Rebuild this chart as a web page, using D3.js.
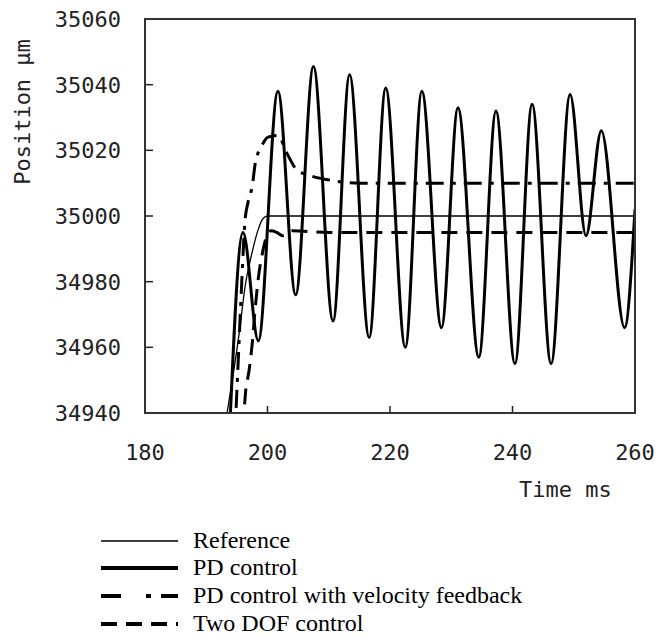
<!DOCTYPE html>
<html>
<head>
<meta charset="utf-8">
<script src="https://cdn.jsdelivr.net/npm/d3@7.9.0/dist/d3.min.js"></script>
<style>
  body { margin: 0; background: #fff; }
  svg { display: block; }
</style>
</head>
<body>
<div id="viz"></div>
<script>
// time (ms) / position (um) pairs
const referenceData = [
  [193.4, 34940], [194.5, 34953], [195.5, 34966], [196.3, 34978], [197.5, 34989],
  [198.5, 34996], [199.3, 34999.3], [200, 35000], [260, 35000]
];
const pdData = [
  [193.6, 34925], [196.0, 34995], [198.5, 34962], [201.7, 35038], [204.6, 34976],
  [207.5, 35045.5], [210.7, 34968], [213.4, 35043], [216.6, 34963], [219.3, 35039],
  [222.5, 34960], [225.2, 35038], [228.4, 34966], [231.1, 35033], [234.5, 34957],
  [237.3, 35032], [240.4, 34955], [243.2, 35034], [246.3, 34955], [249.4, 35037],
  [252.0, 34994], [254.5, 35026], [258.3, 34966], [260, 35002]
];
const pdVelData = [
  [194.6, 34930], [195.2, 34955], [195.8, 34980], [196.3, 34998], [196.8, 35004],
  [197.5, 35009], [198.0, 35016], [199.1, 35021.5], [200.1, 35024], [201.7, 35024.5],
  [203.2, 35019], [204.8, 35014], [206.6, 35012.5], [210, 35011], [215, 35010], [260, 35010]
];
const twoDofData = [
  [196.0, 34935], [196.4, 34946], [197.0, 34953], [197.5, 34961], [198.0, 34972],
  [198.5, 34981], [199.2, 34989], [199.8, 34993.5], [200.6, 34995.5], [201.5, 34995],
  [202.5, 34994], [204, 34995.5], [210, 34995], [260, 34995]
];

const xTicks = [180, 200, 220, 240, 260];
const yTicks = [34940, 34960, 34980, 35000, 35020, 35040, 35060];
const legendLabels = ["Reference", "PD control", "PD control with velocity feedback", "Two DOF control"];

const width = 666, height = 637;
const plot = { left: 145, right: 635, top: 19, bottom: 413 };

const x = d3.scaleLinear().domain([180, 260]).range([plot.left, plot.right]);
const y = d3.scaleLinear().domain([34940, 35060]).range([plot.bottom, plot.top]);

const svg = d3.select("#viz").append("svg")
  .attr("width", width)
  .attr("height", height);

svg.append("defs").append("clipPath").attr("id", "plotClip")
  .append("rect")
  .attr("x", plot.left).attr("y", plot.top)
  .attr("width", plot.right - plot.left)
  .attr("height", plot.bottom - plot.top);

const tickFont = "'DejaVu Sans Mono', monospace";

// inner ticks, left
svg.append("g").selectAll("line")
  .data(yTicks.slice(1, -1))
  .join("line")
  .attr("x1", plot.left).attr("x2", plot.left + 8)
  .attr("y1", d => y(d)).attr("y2", d => y(d))
  .attr("stroke", "#222").attr("stroke-width", 1.5);

// inner ticks, bottom
svg.append("g").selectAll("line")
  .data(xTicks.slice(1, -1))
  .join("line")
  .attr("x1", d => x(d)).attr("x2", d => x(d))
  .attr("y1", plot.bottom).attr("y2", plot.bottom - 7)
  .attr("stroke", "#222").attr("stroke-width", 1.5);

// tick labels
svg.append("g").selectAll("text")
  .data(yTicks)
  .join("text")
  .attr("x", 121)
  .attr("y", d => y(d))
  .attr("dy", "0.36em")
  .attr("text-anchor", "end")
  .style("font-family", tickFont)
  .style("font-size", "22px")
  .attr("fill", "#222")
  .text(d => d);

svg.append("g").selectAll("text")
  .data(xTicks)
  .join("text")
  .attr("x", d => x(d))
  .attr("y", 460)
  .attr("text-anchor", "middle")
  .style("font-family", tickFont)
  .style("font-size", "22px")
  .attr("fill", "#222")
  .text(d => d);

// axis titles
svg.append("text")
  .attr("transform", "translate(30,112) rotate(-90)")
  .attr("text-anchor", "middle")
  .style("font-family", tickFont)
  .style("font-size", "22px")
  .attr("fill", "#222")
  .text("Position μm");

svg.append("text")
  .attr("x", 519)
  .attr("y", 497)
  .style("font-family", tickFont)
  .style("font-size", "22px")
  .attr("fill", "#222")
  .text("Time ms");

// series
const line = d3.line()
  .x(d => x(d[0]))
  .y(d => y(d[1]))
  .curve(d3.curveMonotoneX);

const series = [
  { data: referenceData, width: 1.3, dash: null },
  { data: pdData, width: 3, dash: null },
  { data: pdVelData, width: 3, dash: "18,8,4,8" },
  { data: twoDofData, width: 3, dash: "16,9" }
];

const lines = svg.append("g").attr("clip-path", "url(#plotClip)");
series.forEach(s => {
  lines.append("path")
    .attr("d", line(s.data))
    .attr("fill", "none")
    .attr("stroke", "#000")
    .attr("stroke-width", s.width)
    .attr("stroke-dasharray", s.dash);
});

// frame
svg.append("rect")
  .attr("x", plot.left).attr("y", plot.top)
  .attr("width", plot.right - plot.left)
  .attr("height", plot.bottom - plot.top)
  .attr("fill", "none")
  .attr("stroke", "#333")
  .attr("stroke-width", 2);

// legend
const legendY = [541, 568, 596, 624];
const legendDash = [null, null, "20,25,5,10", "16,9"];
const legendWidth = [1.3, 4, 4, 4];

const legend = svg.append("g");
legendLabels.forEach((label, i) => {
  legend.append("line")
    .attr("x1", 101).attr("x2", 178)
    .attr("y1", legendY[i]).attr("y2", legendY[i])
    .attr("stroke", "#000")
    .attr("stroke-width", legendWidth[i])
    .attr("stroke-dasharray", legendDash[i]);
  legend.append("text")
    .attr("x", 193)
    .attr("y", legendY[i] + 7)
    .style("font-family", "'Liberation Serif', 'Times New Roman', serif")
    .style("font-size", "24px")
    .attr("fill", "#000")
    .text(label);
});
</script>
</body>
</html>
